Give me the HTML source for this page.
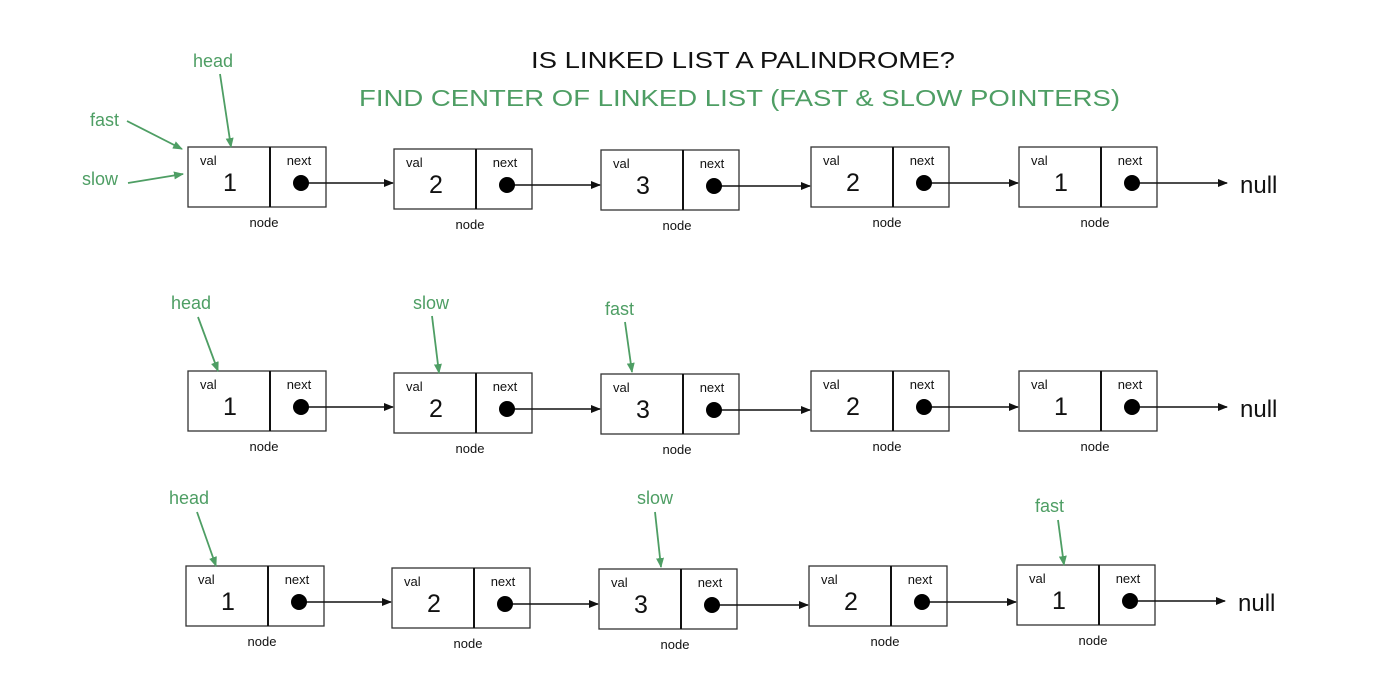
<!DOCTYPE html>
<html><head><meta charset="utf-8"><style>
html,body{margin:0;padding:0;background:#fff;}
svg{display:block;font-family:"Liberation Sans",Arial,sans-serif;}
</style></head><body>
<svg width="1400" height="692" viewBox="0 0 1400 692" xmlns="http://www.w3.org/2000/svg">
<defs>
<marker id="ab" markerWidth="10" markerHeight="8" refX="9" refY="4" orient="auto" markerUnits="userSpaceOnUse"><path d="M0,0 L10,4 L0,8 z" fill="#111"/></marker>
<marker id="ag" markerWidth="10" markerHeight="8" refX="9" refY="4" orient="auto" markerUnits="userSpaceOnUse"><path d="M0,0 L10,4 L0,8 z" fill="#4e9e64"/></marker>
</defs>
<text x="531" y="68" font-size="23" fill="#111" textLength="424" lengthAdjust="spacingAndGlyphs">IS LINKED LIST A PALINDROME?</text>
<text x="359" y="106" font-size="23" fill="#4e9e64" textLength="761" lengthAdjust="spacingAndGlyphs">FIND CENTER OF LINKED LIST (FAST &amp; SLOW POINTERS)</text>
<g id="rows"></g>
<g fill="#4e9e64" font-size="18">
<text x="193" y="67">head</text>
<text x="90" y="126">fast</text>
<text x="82" y="185">slow</text>
<text x="171" y="309">head</text>
<text x="413" y="309">slow</text>
<text x="605" y="315">fast</text>
<text x="169" y="504">head</text>
<text x="637" y="504">slow</text>
<text x="1035" y="512">fast</text>
</g>
<g stroke="#4e9e64" stroke-width="1.8" fill="none" marker-end="url(#ag)">
<line x1="220" y1="74" x2="231" y2="147"/>
<line x1="127" y1="121" x2="182" y2="149"/>
<line x1="128" y1="183" x2="183" y2="174"/>
<line x1="198" y1="317" x2="218" y2="371"/>
<line x1="432" y1="316" x2="439" y2="373"/>
<line x1="625" y1="322" x2="632" y2="372"/>
<line x1="197" y1="512" x2="216" y2="566"/>
<line x1="655" y1="512" x2="661" y2="567"/>
<line x1="1058" y1="520" x2="1064" y2="565"/>
</g>
</svg>
<script>
var rows=[
 [[188,147,1],[394,149,2],[601,150,3],[811,147,2],[1019,147,1]],
 [[188,371,1],[394,373,2],[601,374,3],[811,371,2],[1019,371,1]],
 [[186,566,1],[392,568,2],[599,569,3],[809,566,2],[1017,565,1]]
];
var s='';
rows.forEach(function(r){
 r.forEach(function(n,i){
  var x=n[0],y=n[1];
  s+='<rect x="'+x+'" y="'+y+'" width="138" height="60" fill="#fff" stroke="#333" stroke-width="1.3"/>';
  s+='<line x1="'+(x+82)+'" y1="'+y+'" x2="'+(x+82)+'" y2="'+(y+60)+'" stroke="#111" stroke-width="2"/>';
  s+='<text x="'+(x+12)+'" y="'+(y+18)+'" font-size="13" fill="#111">val</text>';
  s+='<text x="'+(x+42)+'" y="'+(y+44)+'" font-size="25" fill="#111" text-anchor="middle">'+n[2]+'</text>';
  s+='<text x="'+(x+111)+'" y="'+(y+18)+'" font-size="13" fill="#111" text-anchor="middle">next</text>';
  s+='<text x="'+(x+76)+'" y="'+(y+80)+'" font-size="13" fill="#111" text-anchor="middle">node</text>';
  var cy=y+36, cx=x+113;
  var ex = i<4 ? r[i+1][0]-1 : x+208;
  s+='<line x1="'+cx+'" y1="'+cy+'" x2="'+ex+'" y2="'+cy+'" stroke="#111" stroke-width="1.5" marker-end="url(#ab)"/>';
  s+='<circle cx="'+cx+'" cy="'+cy+'" r="8" fill="#000"/>';
  if(i==4) s+='<text x="'+(x+221)+'" y="'+(cy+10)+'" font-size="24" fill="#111">null</text>';
 });
});
document.getElementById('rows').innerHTML=s;
</script>
</body></html>
